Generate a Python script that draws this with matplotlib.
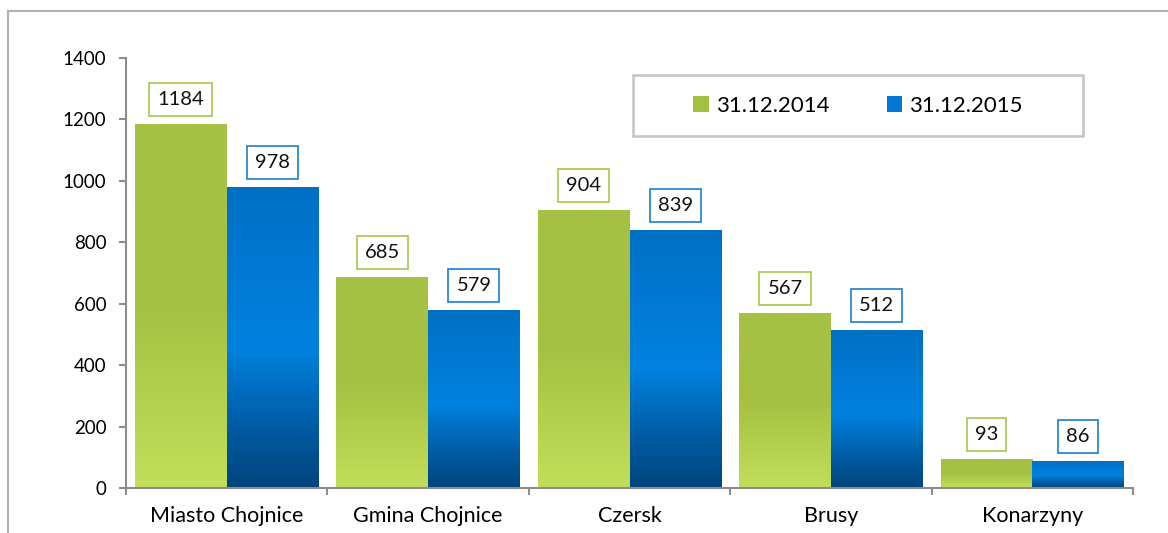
import numpy as np
import matplotlib.pyplot as plt
from matplotlib.colors import LinearSegmentedColormap
from matplotlib.patches import Rectangle, Patch
from matplotlib.lines import Line2D

plt.rcParams['font.family'] = ['Lato', 'DejaVu Sans']

# data
categories = ['Miasto Chojnice', 'Gmina Chojnice', 'Czersk', 'Brusy', 'Konarzyny']
series_names = ['31.12.2014', '31.12.2015']
values_2014 = [1184, 685, 904, 567, 93]
values_2015 = [978, 579, 839, 512, 86]
y_ticks = [0, 200, 400, 600, 800, 1000, 1200, 1400]

green_cmap = LinearSegmentedColormap.from_list(
    'g', [(0.0, '#C2DE5A'), (0.5, '#A6C142'), (1.0, '#A6C144')])
blue_cmap = LinearSegmentedColormap.from_list(
    'b', [(0.0, '#00457D'), (0.2, '#005BA3'), (0.47, '#0082E0'), (1.0, '#0070C4')])
green_edge = '#A4C84A'
blue_edge = '#1A7ED0'
axis_gray = '#8C8C8C'

fig = plt.figure(figsize=(11.68, 5.33), dpi=100)
ax = fig.add_axes([126 / 1168, 45 / 533, 1007 / 1168, 430 / 533])

# outer frame (top and left visible)
fig.add_artist(Line2D([8 / 1168, 1.0], [1 - 11 / 533, 1 - 11 / 533],
                      transform=fig.transFigure, color='#B0B0B0', lw=1.5))
fig.add_artist(Line2D([8 / 1168, 8 / 1168], [0.0, 1 - 11 / 533],
                      transform=fig.transFigure, color='#B0B0B0', lw=1.5))

x = np.arange(len(categories))
w = 0.455
bars1 = ax.bar(x - w / 2, values_2014, w, facecolor='none', edgecolor='none')
bars2 = ax.bar(x + w / 2, values_2015, w, facecolor='none', edgecolor='none')

grad = np.linspace(1, 0, 256).reshape(-1, 1)
for bars, cmap in [(bars1, green_cmap), (bars2, blue_cmap)]:
    for b in bars:
        x0, y0 = b.get_x(), b.get_y()
        ax.imshow(grad, cmap=cmap, extent=[x0, x0 + b.get_width(), y0, y0 + b.get_height()],
                  aspect='auto', interpolation='bicubic', zorder=2)

for bars, vals, ec in [(bars1, values_2014, green_edge), (bars2, values_2015, blue_edge)]:
    for b, v in zip(bars, vals):
        ax.annotate(str(v), (b.get_x() + b.get_width() / 2, b.get_height()),
                    xytext=(0, 18), textcoords='offset points',
                    ha='center', va='center', fontsize=14.5, color='#111111',
                    bbox=dict(boxstyle='square,pad=0.4', fc='white', ec=ec, lw=1.2),
                    zorder=4)

ax.set_xlim(-0.5, len(categories) - 0.5)
ax.set_ylim(0, 1400)
ax.set_yticks(y_ticks)
ax.set_xticks(x)
ax.set_xticklabels(categories)
ax.set_xticks(np.arange(len(categories) + 1) - 0.5, minor=True)

ax.tick_params(axis='x', which='major', length=0, pad=13, labelsize=15.5)
ax.tick_params(axis='x', which='minor', length=5, width=1.5, color=axis_gray, direction='out')
ax.tick_params(axis='y', length=5, width=1.5, color=axis_gray, pad=9, labelsize=13.5)

for side in ['top', 'right']:
    ax.spines[side].set_visible(False)
for side in ['left', 'bottom']:
    ax.spines[side].set_color(axis_gray)
    ax.spines[side].set_linewidth(1.5)

# legend box
lx0, ly0 = (633 - 126) / 1007, (488 - 136) / 430
lw_, lh_ = (1083 - 633) / 1007, (136 - 75) / 430
ax.add_patch(Rectangle((lx0, ly0), lw_, lh_, transform=ax.transAxes, fill=True,
                       fc='white', ec='#C4C4C4', lw=1.8, zorder=5))
handles = [Patch(facecolor='#A6C142', edgecolor='none'),
           Patch(facecolor='#0077D2', edgecolor='none')]
leg = ax.legend(handles, series_names, ncol=2, frameon=False, loc='center',
                bbox_to_anchor=(lx0 + lw_ / 2, ly0 + lh_ / 2), fontsize=16,
                handlelength=0.7, handleheight=0.7, handletextpad=0.3, columnspacing=2.6)
leg.set_zorder(6)

fig.savefig('out.png', dpi=100)
